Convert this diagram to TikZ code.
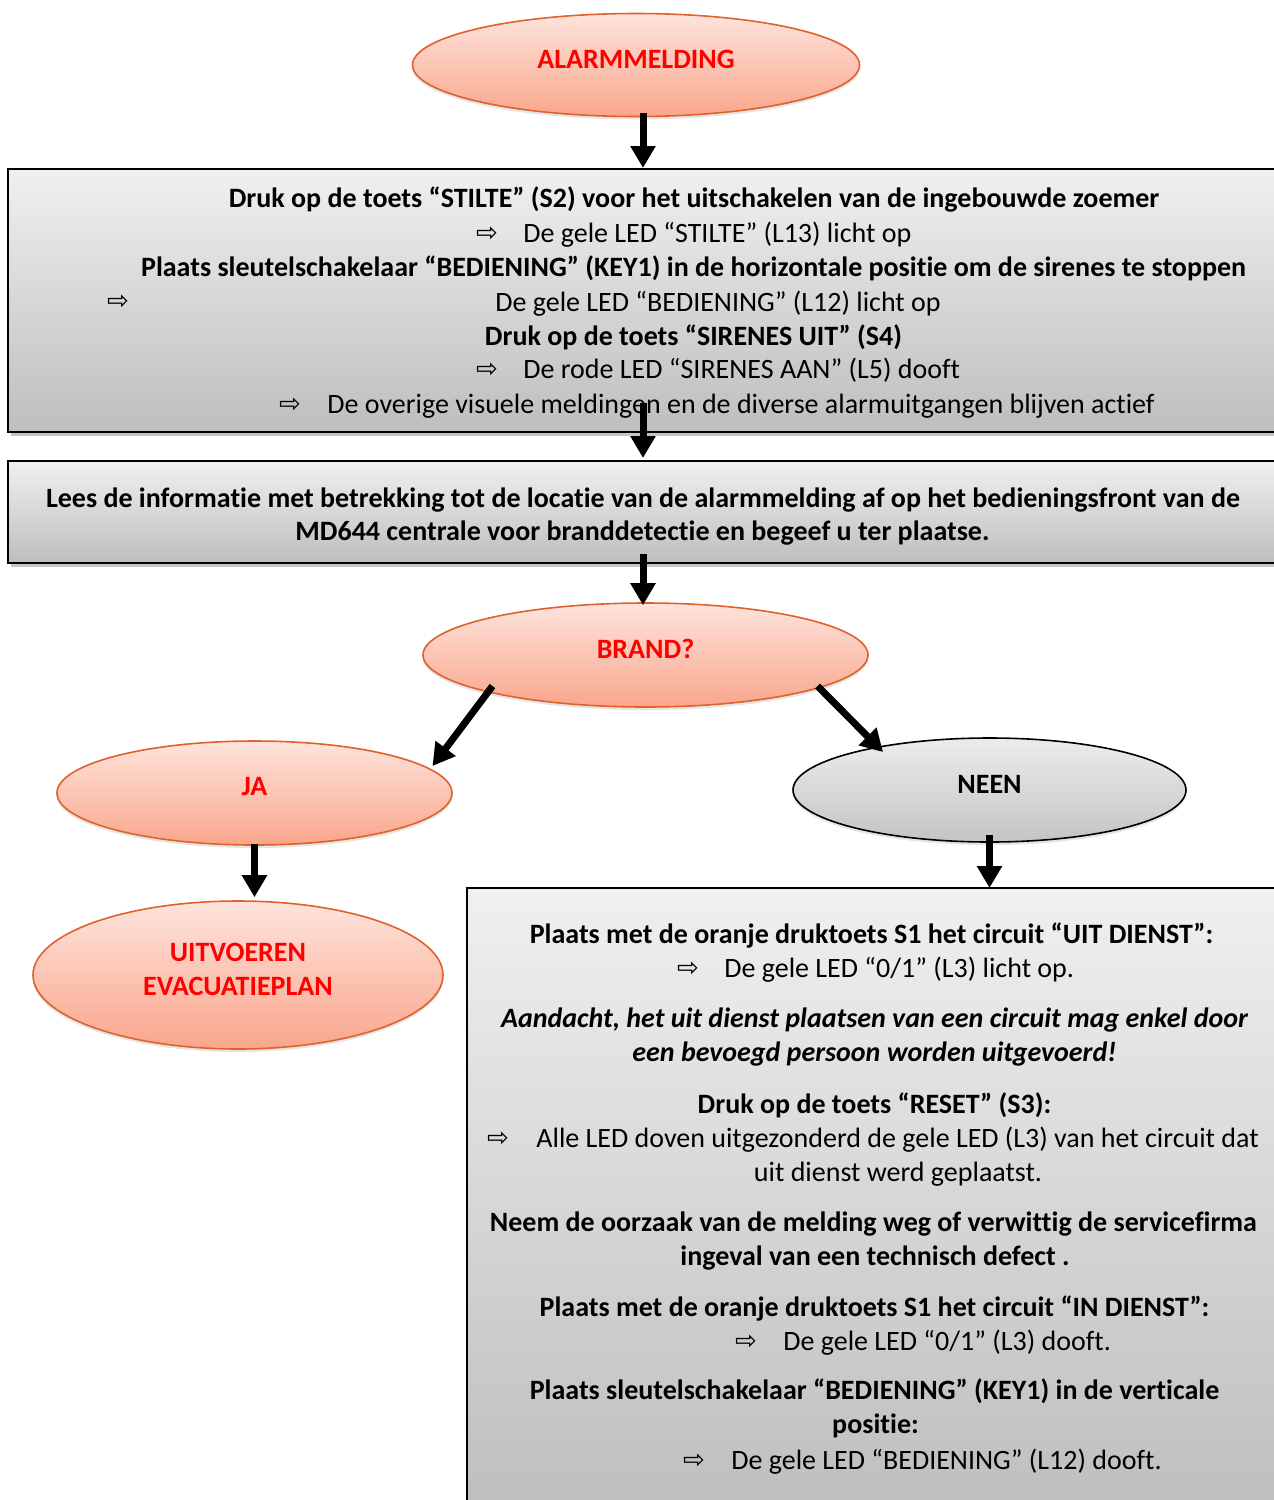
\documentclass[tikz,border=0pt]{standalone}
\usepackage{fontspec}
\setmainfont{Carlito}[Ligatures=NoCommon]
\newfontfamily\symfont{DejaVu Sans}
\usetikzlibrary{shapes.geometric,arrows.meta,shadows,calc}
\definecolor{ovaltop}{RGB}{254,228,220}
\definecolor{ovalbot}{RGB}{249,166,140}
\definecolor{ovalline}{RGB}{224,98,42}
\definecolor{pantop}{RGB}{240,240,240}
\definecolor{panbot}{RGB}{190,190,190}
\definecolor{neentop}{RGB}{236,236,236}
\definecolor{neenbot}{RGB}{196,196,196}
\definecolor{alarmred}{RGB}{255,0,0}
\tikzset{
  oval/.style={ellipse, draw=ovalline, line width=0.8pt, top color=ovaltop, bottom color=ovalbot,
    text=alarmred, font=\fontsize{14}{17}\selectfont\bfseries, align=center, inner sep=0pt,
    drop shadow={shadow xshift=0pt, shadow yshift=-1.5pt, opacity=0.2, fill=gray}},
  greyoval/.style={oval, draw=black, top color=neentop, bottom color=neenbot, text=black},
  panel/.style={rectangle, draw=black, line width=1pt, top color=pantop, bottom color=panbot, inner sep=0pt,
    drop shadow={shadow xshift=1.5pt, shadow yshift=-2pt, opacity=0.45, fill=gray}},
  bodytext/.style={font=\fontsize{14}{17}\selectfont, anchor=mid, inner sep=0pt},
  boldtext/.style={font=\fontsize{14}{17}\selectfont\bfseries, anchor=mid, inner sep=0pt},
  italtext/.style={font=\fontsize{14}{17}\selectfont\bfseries\itshape, anchor=mid, inner sep=0pt},
  arrowsym/.style={font=\fontsize{13}{15}\symfont, anchor=mid, inner sep=0pt},
  flow/.style={line width=3.5pt, -{Triangle[length=11pt,width=12pt]}},
}
\newcommand{\up}[2][3pt]{\raisebox{#1}[\height][\depth]{#2}}
\begin{document}
\begin{tikzpicture}[x=0.5pt,y=-0.5pt]
\useasboundingbox (0,0) rectangle (1274,1500);
\clip (0,0) rectangle (1274,1500);
\fill[white] (0,0) rectangle (1274,1500);

% ellipses
\node[oval, minimum width=223.5pt, minimum height=51.5pt] (alarm) at (636,65) {\up{ALARMMELDING}};
\node[oval, minimum width=222.5pt, minimum height=52pt] (brand) at (645.5,655) {\up{BRAND?}};
\node[oval, minimum width=197.5pt, minimum height=52pt] (ja) at (254.5,793) {\up{JA}};
\node[greyoval, minimum width=196.5pt, minimum height=52pt] (neen) at (989.5,790) {\up{NEEN}};
\node[oval, minimum width=205pt, minimum height=74pt] (evac) at (238,975) {\up[1.5pt]{\renewcommand{\arraystretch}{1}\begin{tabular}{@{}c@{}}UITVOEREN\\EVACUATIEPLAN\end{tabular}}};

% panels
\node[panel, minimum width=641pt, minimum height=131.5pt] (box1) at (649,300.5) {};
\node[panel, minimum width=641pt, minimum height=51pt] (box2) at (649,512) {};
\node[panel, minimum width=411.5pt, minimum height=311pt] (box3) at (878.5,1199) {};

% box 1 text
\node[boldtext] (t1) at (694,203) {Druk op de toets “STILTE” (S2) voor het uitschakelen van de ingebouwde zoemer};
\node[arrowsym] (s1) at (487,237) {⇨};
\node[bodytext, anchor=mid west] (t2) at (523,238) {De gele LED “STILTE” (L13) licht op};
\node[boldtext] (t3) at (693.5,272) {Plaats sleutelschakelaar “BEDIENING” (KEY1) in de horizontale positie om de sirenes te stoppen};
\node[arrowsym] (s2) at (118,305) {⇨};
\node[bodytext, anchor=mid west] (t4) at (495,307) {De gele LED “BEDIENING” (L12) licht op};
\node[boldtext] (t5) at (693.5,341) {Druk op de toets “SIRENES UIT” (S4)};
\node[arrowsym] (s3) at (487,373) {⇨};
\node[bodytext, anchor=mid west] (t6) at (523,374) {De rode LED “SIRENES AAN” (L5) dooft};
\node[arrowsym] (s4) at (290,408) {⇨};
\node[bodytext, anchor=mid west] (t7) at (327,409) {De overige visuele meldingen en de diverse alarmuitgangen blijven actief};

% box 2 text
\node[boldtext] (m1) at (643,503) {Lees de informatie met betrekking tot de locatie van de alarmmelding af op het bedieningsfront van de};
\node[boldtext] (m2) at (642.5,536) {MD644 centrale voor branddetectie en begeef u ter plaatse.};

% box 3 text
\node[boldtext] (n1) at (871.5,939) {Plaats met de oranje druktoets S1 het circuit “UIT DIENST”:};
\node[arrowsym] (r1) at (688,972) {⇨};
\node[bodytext, anchor=mid west] (n2) at (724,973) {De gele LED “0/1” (L3) licht op.};
\node[italtext] (n3) at (874.5,1023) {Aandacht, het uit dienst plaatsen van een circuit mag enkel door};
\node[italtext] (n4) at (874.5,1057) {een bevoegd persoon worden uitgevoerd!};
\node[boldtext] (n5) at (874.5,1109) {Druk op de toets “RESET” (S3):};
\node[arrowsym] (r2) at (498,1142) {⇨};
\node[bodytext, anchor=mid west] (n6) at (536,1143) {Alle LED doven uitgezonderd de gele LED (L3) van het circuit dat};
\node[bodytext] (n7) at (898,1177) {uit dienst werd geplaatst.};
\node[boldtext] (n8) at (873.5,1227) {Neem de oorzaak van de melding weg of verwittig de servicefirma};
\node[boldtext] (n9) at (875,1261) {ingeval van een technisch defect .};
\node[boldtext] (n10) at (874.5,1312) {Plaats met de oranje druktoets S1 het circuit “IN DIENST”:};
\node[arrowsym] (r3) at (746,1345) {⇨};
\node[bodytext, anchor=mid west] (n11) at (783,1346) {De gele LED “0/1” (L3) dooft.};
\node[boldtext] (n12) at (874.5,1395) {Plaats sleutelschakelaar “BEDIENING” (KEY1) in de verticale};
\node[boldtext] (n13) at (875.5,1429) {positie:};
\node[arrowsym] (r4) at (694,1464) {⇨};
\node[bodytext, anchor=mid west] (n14) at (731,1465) {De gele LED “BEDIENING” (L12) dooft.};

% connectors
\coordinate (cx) at (643,0);
\draw[flow] ($(cx |- alarm.south)+(0,-4)$) -- (cx |- box1.north);
\draw[flow] ($(cx |- box1.south)+(0,-30)$) -- ($(cx |- box2.north)+(0,-2)$);
\draw[flow] ($(cx |- box2.south)+(0,-10)$) -- ($(cx |- brand.north)+(0,3)$);
\draw[flow] ($(brand.center)+(-153,31)$) -- ($(ja.center)+(178,-27)$);
\draw[flow] ($(brand.center)+(172,31)$) -- ($(neen.center)+(-106.5,-38)$);
\draw[flow] ($(ja.south)+(0,-2)$) -- ($(ja.south |- evac.north)+(0,-3)$);
\draw[flow] ($(neen.south)+(0,-8)$) -- ($(neen.south |- box3.north)+(0,1)$);
\end{tikzpicture}
\end{document}
